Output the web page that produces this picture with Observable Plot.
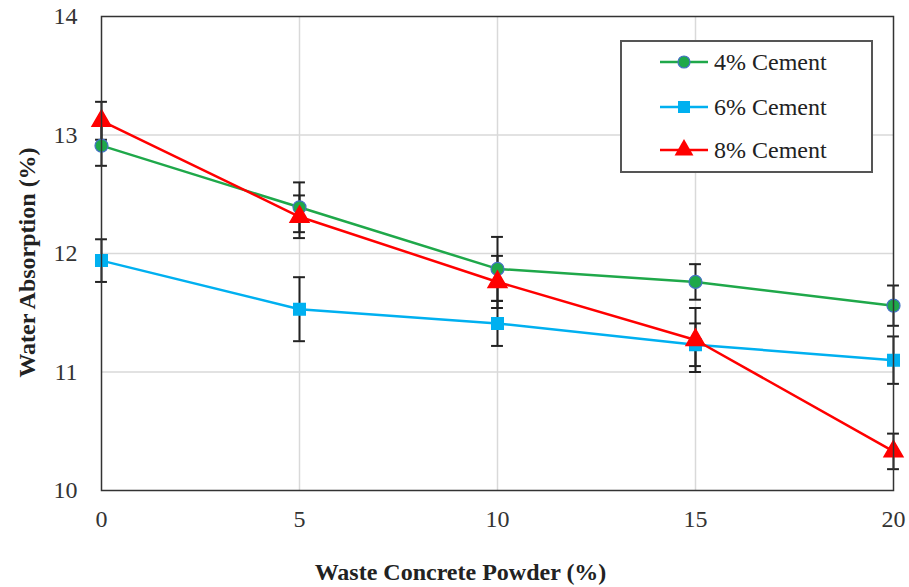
<!DOCTYPE html>
<html>
<head>
<meta charset="utf-8">
<script src="https://cdn.jsdelivr.net/npm/d3@7"></script>
<script src="https://cdn.jsdelivr.net/npm/@observablehq/plot@0.6"></script>
<style>
  html, body { margin: 0; padding: 0; background: #fff; }
  #wrap { position: relative; width: 909px; height: 587px; font-family: 'Liberation Serif', 'DejaVu Serif', serif; }
  #legend { position: absolute; left: 620px; top: 40px; width: 253px; height: 133px; border: 2px solid #555; background: #fff; box-sizing: border-box; }
  .entry { position: absolute; left: 38px; height: 24px; display: flex; align-items: center; font-size: 24px; color: #222; font-family: 'Liberation Serif', 'DejaVu Serif', serif; }
  .entry svg { margin-right: 4px; }
</style>
</head>
<body>
<div id="wrap"></div>
<script>
const powder = [0, 5, 10, 15, 20];
const seriesNames = ["4% Cement", "6% Cement", "8% Cement"];
const cement4 = [12.91, 12.39, 11.87, 11.76, 11.56];
const cement6 = [11.94, 11.53, 11.41, 11.23, 11.10];
const cement8 = [13.12, 12.31, 11.76, 11.27, 10.33];
const err4 = [0.17, 0.21, 0.27, 0.15, 0.17];
const err6 = [0.18, 0.27, 0.19, 0.18, 0.20];
const err8 = [0.16, 0.18, 0.22, 0.27, 0.15];
const colors = ["#1fa84a", "#00b0f0", "#ff0000"];
const symbols = ["circle", "square", "triangle"];
const yTicks = [10, 11, 12, 13, 14];
const xTicks = [0, 5, 10, 15, 20];

const values = [cement4, cement6, cement8];
const errs = [err4, err6, err8];
const data = [];
seriesNames.forEach((s, i) => powder.forEach((x, j) => data.push({series: s, x, y: values[i][j], e: errs[i][j]})));

const FONT = "'Liberation Serif', 'DejaVu Serif', serif";
const capHalf = 0.15;
const chart = Plot.plot({
  width: 909,
  height: 587,
  marginLeft: 101,
  marginRight: 16,
  marginTop: 16,
  marginBottom: 97,
  style: {fontFamily: FONT, fontSize: "24px", color: "#333", background: "#fff"},
  x: {domain: [0, 20], label: null},
  y: {domain: [10, 14], label: null},
  marks: [
    Plot.gridY([11, 12, 13], {stroke: "#d9d9d9", strokeOpacity: 1, strokeWidth: 1.5}),
    Plot.gridX([5, 10, 15], {stroke: "#d9d9d9", strokeOpacity: 1, strokeWidth: 1.5}),
    Plot.axisX({ticks: xTicks, tickSize: 0, tickPadding: 19, tickFormat: d3.format("d"), label: null, fontFamily: FONT, fontSize: 24}),
    Plot.axisY({ticks: yTicks, tickSize: 0, tickPadding: 24, tickFormat: d3.format("d"), label: null, fontFamily: FONT, fontSize: 24}),
    Plot.ruleX(data, {x: "x", y1: d => d.y - d.e, y2: d => d.y + d.e, stroke: "#222", strokeWidth: 2}),
    Plot.ruleY(data, {y: d => d.y - d.e, x1: d => d.x - capHalf, x2: d => d.x + capHalf, stroke: "#222", strokeWidth: 2}),
    Plot.ruleY(data, {y: d => d.y + d.e, x1: d => d.x - capHalf, x2: d => d.x + capHalf, stroke: "#222", strokeWidth: 2}),
    Plot.line(data, {x: "x", y: "y", z: "series", stroke: d => colors[seriesNames.indexOf(d.series)], strokeWidth: 2.5}),
    Plot.dot(data.filter(d => d.series === seriesNames[0]), {x: "x", y: "y", r: 6.5, fill: colors[0], stroke: "#4472c4", strokeWidth: 1.2}),
    Plot.dot(data.filter(d => d.series === seriesNames[1]), {x: "x", y: "y", r: 6.5, symbol: "square", fill: colors[1], stroke: colors[1]}),
    Plot.dot(data.filter(d => d.series === seriesNames[2]), {x: "x", y: "y", r: 7, symbol: "triangle", fill: colors[2], stroke: colors[2]}),
    Plot.frame({stroke: "#333", strokeWidth: 1.5}),
    Plot.text(["Waste Concrete Powder (%)"], {frameAnchor: "bottom", lineAnchor: "middle", dx: -37, dy: 82, fontWeight: "bold", fontSize: 24, fontFamily: FONT, fill: "#222"}),
    Plot.text(["Water Absorption (%)"], {frameAnchor: "left", textAnchor: "middle", lineAnchor: "middle", rotate: -90, dx: -74, dy: 9, fontWeight: "bold", fontSize: 24, fontFamily: FONT, fill: "#222"})
  ]
});
const wrap = document.getElementById("wrap");
wrap.appendChild(chart);

// Legend
const legend = document.createElement("div");
legend.id = "legend";
const ys = [8, 53, 96];
seriesNames.forEach((name, i) => {
  const e = document.createElement("div");
  e.className = "entry";
  e.style.top = ys[i] + "px";
  const sym = symbols[i];
  let shape = "";
  if (sym === "circle") shape = `<circle cx="24" cy="12" r="6" fill="${colors[i]}" stroke="#4472c4" stroke-width="1.2"/>`;
  else if (sym === "square") shape = `<rect x="18" y="6" width="12" height="12" fill="${colors[i]}"/>`;
  else shape = `<path d="${d3.symbol(d3.symbolTriangle, Math.PI * 49)()}" transform="translate(24,12)" fill="${colors[i]}"/>`;
  e.innerHTML = `<svg width="50" height="24"><line x1="0" x2="48" y1="12" y2="12" stroke="${colors[i]}" stroke-width="2.5"/>${shape}</svg><span>${name}</span>`;
  legend.appendChild(e);
});
wrap.appendChild(legend);
</script>
</body>
</html>
